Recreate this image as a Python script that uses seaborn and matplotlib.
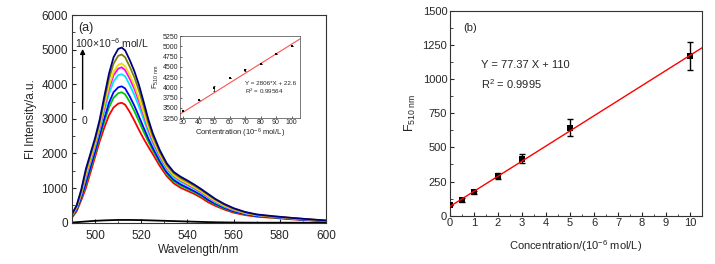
import numpy as np
import pandas as pd
import matplotlib
matplotlib.use("Agg")
import matplotlib.pyplot as plt
import seaborn as sns

# ---------------- data: panel (a) spectra ----------------
wavelength = [490, 492, 494, 496, 498, 500, 502, 504, 506, 508, 510, 511.5, 513, 515, 517, 519,
              521, 523, 525, 528, 531, 534, 537, 540, 543, 546, 549, 552, 556, 560, 565, 570,
              577, 585, 592, 600]
spec_red = [150, 330, 650, 1000, 1450, 1900, 2350, 2750, 3100, 3330, 3440, 3465, 3410, 3200, 2950, 2680,
            2430, 2200, 1980, 1640, 1350, 1140, 1010, 920, 830, 720, 590, 490, 380, 290, 220, 175,
            140, 100, 75, 45]
spec_green = [170, 360, 710, 1100, 1550, 2000, 2470, 2920, 3330, 3610, 3740, 3770, 3710, 3490, 3220, 2930,
              2630, 2350, 2090, 1730, 1420, 1200, 1070, 980, 880, 770, 640, 530, 410, 320, 240, 190,
              150, 110, 80, 50]
spec_blue = [180, 380, 740, 1160, 1610, 2060, 2540, 3020, 3460, 3770, 3910, 3940, 3880, 3650, 3380, 3070,
             2750, 2440, 2160, 1780, 1460, 1240, 1110, 1010, 910, 800, 660, 550, 430, 330, 250, 190,
             160, 110, 80, 50]
spec_cyan = [200, 420, 810, 1290, 1740, 2190, 2680, 3220, 3720, 4080, 4260, 4290, 4230, 3980, 3690, 3360,
             2990, 2620, 2290, 1880, 1540, 1310, 1180, 1080, 970, 850, 720, 590, 460, 360, 270, 210,
             170, 120, 90, 60]
spec_magenta = [210, 440, 840, 1350, 1800, 2250, 2750, 3330, 3870, 4260, 4450, 4490, 4410, 4160, 3870, 3510,
                3120, 2710, 2360, 1930, 1590, 1350, 1220, 1110, 1000, 880, 740, 620, 480, 370, 280, 220,
                170, 130, 90, 60]
spec_yellow = [220, 450, 860, 1390, 1840, 2290, 2800, 3390, 3950, 4360, 4560, 4600, 4520, 4270, 3970, 3600,
               3190, 2770, 2410, 1970, 1610, 1370, 1240, 1130, 1020, 900, 760, 630, 490, 380, 280, 220,
               180, 130, 100, 60]
spec_olive = [240, 480, 910, 1480, 1930, 2380, 2900, 3540, 4150, 4600, 4820, 4860, 4780, 4510, 4200, 3820,
              3370, 2900, 2500, 2040, 1670, 1430, 1290, 1180, 1070, 940, 800, 670, 520, 400, 300, 230,
              180, 140, 100, 60]
spec_navy = [250, 500, 950, 1550, 2000, 2450, 2980, 3650, 4300, 4780, 5020, 5060, 4980, 4700, 4380, 3980,
             3500, 3000, 2580, 2100, 1720, 1470, 1330, 1220, 1100, 970, 830, 690, 540, 420, 310, 240,
             190, 140, 105, 65]
blank_wl = [490, 495, 500, 505, 510, 515, 520, 525, 530, 540, 550, 560, 570, 600]
blank_int = [5, 30, 55, 70, 80, 80, 75, 65, 55, 35, 15, 5, 0, 0]

# ---------------- data: inset ----------------
inset_conc = [30, 40, 50, 60, 70, 80, 90, 100]
inset_F = [3420, 3700, 3970, 4230, 4410, 4560, 4810, 5010]
inset_err = [0, 0, 60, 0, 25, 0, 0, 0]
inset_fit_slope = 23.7
inset_fit_intercept = 2680

# ---------------- data: panel (b) ----------------
conc_b = [0, 0.5, 1, 2, 3, 5, 10]
F_b = [75, 115, 170, 290, 417, 644, 1168]
err_b = [0, 15, 12, 25, 35, 63, 100]
fit_b_slope = 110.5
fit_b_intercept = 68

sns.set_style("ticks")
plt.rcParams['font.family'] = ['Liberation Sans', 'DejaVu Sans']
plt.rcParams['mathtext.fontset'] = 'custom'
plt.rcParams['mathtext.rm'] = 'Liberation Sans'
plt.rcParams['mathtext.it'] = 'Liberation Sans'

fig = plt.figure(figsize=(7.15, 2.64), dpi=100)
axA = fig.add_axes([0.1007, 0.1564, 0.3552, 0.7867])
axB = fig.add_axes([0.6294, 0.183, 0.3524, 0.7765])
axI = fig.add_axes([0.2517, 0.553, 0.168, 0.3106])

# ---------- panel (a) ----------
colors = ["#FF0000", "#00C800", "#0000FF", "#00E5FF", "#FF00FF", "#F0E000", "#808000", "#000080"]
specs = [spec_red, spec_green, spec_blue, spec_cyan, spec_magenta, spec_yellow, spec_olive, spec_navy]
sns.lineplot(x=blank_wl, y=blank_int, ax=axA, color="black", lw=1.3)
for c, s in zip(colors, specs):
    sns.lineplot(x=wavelength, y=s, ax=axA, color=c, lw=1.3)
axA.set_xlim(490, 600)
axA.set_ylim(0, 6000)
axA.set_xticks([500, 520, 540, 560, 580, 600])
axA.set_xticks(np.arange(490, 601, 10), minor=True)
axA.set_yticks(np.arange(0, 6001, 1000))
axA.set_yticks(np.arange(0, 6001, 500), minor=True)
axA.set_xlabel("Wavelength/nm", fontsize=8.5, labelpad=2)
axA.set_ylabel("Fl Intensity/a.u.", fontsize=8.5, labelpad=3)
axA.text(0.025, 0.965, "(a)", transform=axA.transAxes, fontsize=9, va="top", ha="left")
axA.annotate("", xy=(494.6, 5100), xytext=(494.6, 3200),
             arrowprops=dict(arrowstyle="-|>", color="black", lw=1.0, mutation_scale=7))
axA.text(491.5, 5200, "100×10$^{-6}$ mol/L", fontsize=7.5, va="center", ha="left")
axA.text(495.3, 2950, "0", fontsize=7.5, va="center", ha="center")

# ---------- inset ----------
sns.scatterplot(x=inset_conc, y=inset_F, ax=axI, marker="s", s=4, color="black",
                edgecolor="black", linewidth=0, zorder=3)
axI.errorbar(inset_conc, inset_F, yerr=inset_err, fmt="none", ecolor="black",
             elinewidth=0.5, capsize=1, capthick=0.5)
xl = np.array([28, 105.5])
sns.lineplot(x=xl, y=inset_fit_slope * xl + inset_fit_intercept, ax=axI, color="#FF5050", lw=0.8)
axI.set_xlim(28, 105.5)
axI.set_ylim(3250, 5250)
axI.set_xticks(np.arange(30, 101, 10))
axI.set_yticks(np.arange(3250, 5251, 250))
axI.tick_params(labelsize=5, direction="in", length=1.5, width=0.5, pad=1)
axI.set_xlabel("Contentration (10$^{-6}$ mol/L)", fontsize=5.5, labelpad=0.5)
axI.set_ylabel("F$_{\\mathregular{510\\ nm}}$", fontsize=5.5, labelpad=1)
axI.text(70, 4090, "Y = 2806*X + 22.6", fontsize=4.5, va="center")
axI.text(70, 3900, "R$^2$ = 0.99564", fontsize=4.5, va="center")
for sp in axI.spines.values():
    sp.set_linewidth(0.5)
    sp.set_color("#444444")

# ---------- panel (b) ----------
axB.errorbar(conc_b, F_b, yerr=err_b, fmt="none", ecolor="black", elinewidth=1.0,
             capsize=2.5, capthick=1.0, zorder=2)
sns.scatterplot(x=conc_b, y=F_b, ax=axB, marker="s", s=22, color="black",
                edgecolor="black", linewidth=0, zorder=3)
xb = np.array([0, 10.5])
sns.lineplot(x=xb, y=fit_b_slope * xb + fit_b_intercept, ax=axB, color="#FF0000", lw=1.0, zorder=4)
axB.set_xlim(0, 10.5)
axB.set_ylim(0, 1500)
axB.set_xticks(np.arange(0, 11, 1))
axB.set_xticks(np.arange(0, 10.6, 0.5), minor=True)
axB.set_yticks(np.arange(0, 1501, 250))
axB.set_yticks(np.arange(0, 1501, 125), minor=True)
axB.set_xlabel("Concentration/(10$^{-6}$ mol/L)", fontsize=8, labelpad=7)
axB.set_ylabel("F$_{\\mathregular{510\\ nm}}$", fontsize=9, labelpad=3)
axB.text(0.83, 1370, "(b)", fontsize=8, va="center", ha="center")
axB.text(1.3, 1100, "Y = 77.37 X + 110", fontsize=8, va="center")
axB.text(1.3, 965, "R$^2$ = 0.9995", fontsize=8, va="center")

axA.tick_params(which="major", direction="in", length=3, width=0.8, labelsize=8.5)
axA.tick_params(axis="x", which="major", pad=5)
axA.tick_params(axis="y", which="major", pad=3)
axB.tick_params(which="major", direction="in", length=3, width=0.8, labelsize=8, pad=2)
for ax in (axA, axB):
    ax.tick_params(which="minor", direction="in", length=1.8, width=0.6)
    for sp in ax.spines.values():
        sp.set_linewidth(0.8)
        sp.set_color("#333333")

fig.savefig("out.png", dpi=100)
